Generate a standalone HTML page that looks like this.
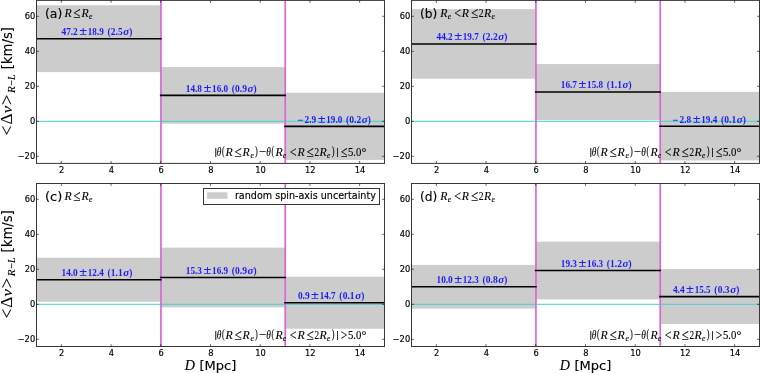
<!DOCTYPE html>
<html lang="en"><head><meta charset="utf-8"><title>Figure</title>
<style>html,body{margin:0;padding:0;background:#fff;}body{width:760px;height:373px;overflow:hidden;}svg{display:block;}</style>
</head><body>
<svg width="760" height="373" viewBox="0 0 760 373">
<rect x="0" y="0" width="760" height="373" fill="#fff"/>
<g id="panel-a">
<clipPath id="clip-a"><rect x="36.5" y="0.4" width="348" height="163"/></clipPath>
<g clip-path="url(#clip-a)">
<rect x="36.5" y="5.28" width="124.29" height="66.8" fill="#cccccc"/>
<rect x="160.79" y="67.05" width="124.29" height="56.65" fill="#cccccc"/>
<rect x="285.07" y="92.78" width="99.43" height="67.15" fill="#cccccc"/>
<line x1="36.5" x2="384.5" y1="121.3" y2="121.3" stroke="#45cfcf" stroke-width="1"/>
<line x1="160.94" x2="160.94" y1="0.4" y2="163.4" stroke="#dc66d8" stroke-width="1.7"/>
<line x1="285.22" x2="285.22" y1="0.4" y2="163.4" stroke="#dc66d8" stroke-width="1.7"/>
<line x1="35.6" x2="161.69" y1="38.7" y2="38.7" stroke="#000" stroke-width="1.6"/>
<line x1="159.89" x2="285.97" y1="95.4" y2="95.4" stroke="#000" stroke-width="1.6"/>
<line x1="284.17" x2="385.4" y1="126.38" y2="126.38" stroke="#000" stroke-width="1.6"/>
</g>
<text x="61.5" y="35" font-family="'Liberation Serif','DejaVu Serif',serif" font-size="9.6" fill="#1a1aff" font-weight="bold" textLength="16.2" lengthAdjust="spacingAndGlyphs">47.2</text>
<text x="79.2" y="35.1" font-family="'Liberation Serif','DejaVu Serif',serif" font-size="12" fill="#1a1aff" font-weight="bold" textLength="7.9" lengthAdjust="spacingAndGlyphs">±</text>
<text x="87.8" y="35" font-family="'Liberation Serif','DejaVu Serif',serif" font-size="9.6" fill="#1a1aff" font-weight="bold" textLength="15.9" lengthAdjust="spacingAndGlyphs">18.9</text>
<text x="107.4" y="35.3" font-family="'Liberation Serif','DejaVu Serif',serif" font-size="10.6" fill="#1a1aff" font-weight="bold" textLength="3.1" lengthAdjust="spacingAndGlyphs">(</text>
<text x="110.8" y="35" font-family="'Liberation Serif','DejaVu Serif',serif" font-size="9.6" fill="#1a1aff" font-weight="bold" textLength="11.9" lengthAdjust="spacingAndGlyphs">2.5</text>
<text x="123.3" y="35" font-family="'Liberation Serif','DejaVu Serif',serif" font-size="9.6" fill="#1a1aff" font-style="italic" font-weight="bold" textLength="5.9" lengthAdjust="spacingAndGlyphs">σ</text>
<text x="129.3" y="35.3" font-family="'Liberation Serif','DejaVu Serif',serif" font-size="10.6" fill="#1a1aff" font-weight="bold" textLength="3.1" lengthAdjust="spacingAndGlyphs">)</text>
<text x="185.8" y="92" font-family="'Liberation Serif','DejaVu Serif',serif" font-size="9.6" fill="#1a1aff" font-weight="bold" textLength="16.2" lengthAdjust="spacingAndGlyphs">14.8</text>
<text x="203.5" y="92.1" font-family="'Liberation Serif','DejaVu Serif',serif" font-size="12" fill="#1a1aff" font-weight="bold" textLength="7.9" lengthAdjust="spacingAndGlyphs">±</text>
<text x="212.1" y="92" font-family="'Liberation Serif','DejaVu Serif',serif" font-size="9.6" fill="#1a1aff" font-weight="bold" textLength="15.9" lengthAdjust="spacingAndGlyphs">16.0</text>
<text x="231.7" y="92.3" font-family="'Liberation Serif','DejaVu Serif',serif" font-size="10.6" fill="#1a1aff" font-weight="bold" textLength="3.1" lengthAdjust="spacingAndGlyphs">(</text>
<text x="235.1" y="92" font-family="'Liberation Serif','DejaVu Serif',serif" font-size="9.6" fill="#1a1aff" font-weight="bold" textLength="11.9" lengthAdjust="spacingAndGlyphs">0.9</text>
<text x="247.6" y="92" font-family="'Liberation Serif','DejaVu Serif',serif" font-size="9.6" fill="#1a1aff" font-style="italic" font-weight="bold" textLength="5.9" lengthAdjust="spacingAndGlyphs">σ</text>
<text x="253.6" y="92.3" font-family="'Liberation Serif','DejaVu Serif',serif" font-size="10.6" fill="#1a1aff" font-weight="bold" textLength="3.1" lengthAdjust="spacingAndGlyphs">)</text>
<text x="297.6" y="123.6" font-family="'Liberation Serif','DejaVu Serif',serif" font-size="12" fill="#1a1aff" font-weight="bold" textLength="6" lengthAdjust="spacingAndGlyphs">−</text>
<text x="304.5" y="123" font-family="'Liberation Serif','DejaVu Serif',serif" font-size="9.6" fill="#1a1aff" font-weight="bold" textLength="11.7" lengthAdjust="spacingAndGlyphs">2.9</text>
<text x="317.7" y="123.1" font-family="'Liberation Serif','DejaVu Serif',serif" font-size="12" fill="#1a1aff" font-weight="bold" textLength="7.9" lengthAdjust="spacingAndGlyphs">±</text>
<text x="326.3" y="123" font-family="'Liberation Serif','DejaVu Serif',serif" font-size="9.6" fill="#1a1aff" font-weight="bold" textLength="15.9" lengthAdjust="spacingAndGlyphs">19.0</text>
<text x="345.9" y="123.3" font-family="'Liberation Serif','DejaVu Serif',serif" font-size="10.6" fill="#1a1aff" font-weight="bold" textLength="3.1" lengthAdjust="spacingAndGlyphs">(</text>
<text x="349.3" y="123" font-family="'Liberation Serif','DejaVu Serif',serif" font-size="9.6" fill="#1a1aff" font-weight="bold" textLength="11.9" lengthAdjust="spacingAndGlyphs">0.2</text>
<text x="361.8" y="123" font-family="'Liberation Serif','DejaVu Serif',serif" font-size="9.6" fill="#1a1aff" font-style="italic" font-weight="bold" textLength="5.9" lengthAdjust="spacingAndGlyphs">σ</text>
<text x="367.8" y="123.3" font-family="'Liberation Serif','DejaVu Serif',serif" font-size="10.6" fill="#1a1aff" font-weight="bold" textLength="3.1" lengthAdjust="spacingAndGlyphs">)</text>
<text x="45" y="17.7" font-family="'DejaVu Sans','Liberation Sans',sans-serif" font-size="12.6" fill="#000" stroke="#000" stroke-width="0.12" textLength="17.4" lengthAdjust="spacingAndGlyphs">(a)</text>
<text x="64.4" y="16.8" font-family="'Liberation Serif','DejaVu Serif',serif" font-size="11.8" fill="#000" stroke="#000" stroke-width="0.12" font-style="italic" textLength="7.2" lengthAdjust="spacingAndGlyphs">R</text>
<text x="73.3" y="18" font-family="'Liberation Serif','DejaVu Serif',serif" font-size="15.5" fill="#000" stroke="#000" stroke-width="0.12" textLength="7.2" lengthAdjust="spacingAndGlyphs">≤</text>
<text x="81.6" y="16.8" font-family="'Liberation Serif','DejaVu Serif',serif" font-size="11.8" fill="#000" stroke="#000" stroke-width="0.12" font-style="italic" textLength="7.2" lengthAdjust="spacingAndGlyphs">R</text>
<text x="89" y="18.8" font-family="'Liberation Serif','DejaVu Serif',serif" font-size="8.8" fill="#000" stroke="#000" stroke-width="0.12" font-style="italic" textLength="3.4" lengthAdjust="spacingAndGlyphs">e</text>
<text x="214.15" y="155.2" font-family="'Liberation Serif','DejaVu Serif',serif" font-size="11.4" fill="#000" stroke="#000" stroke-width="0.12" textLength="3" lengthAdjust="spacingAndGlyphs">|</text>
<text x="216.8" y="155.7" font-family="'Liberation Serif','DejaVu Serif',serif" font-size="11.8" fill="#000" stroke="#000" stroke-width="0.12" font-style="italic" textLength="4.6" lengthAdjust="spacingAndGlyphs">θ</text>
<text x="222.1" y="155.2" font-family="'Liberation Serif','DejaVu Serif',serif" font-size="11.5" fill="#000" stroke="#000" stroke-width="0.12" textLength="2.6" lengthAdjust="spacingAndGlyphs">(</text>
<text x="225.4" y="155.7" font-family="'Liberation Serif','DejaVu Serif',serif" font-size="11.8" fill="#000" stroke="#000" stroke-width="0.12" font-style="italic" textLength="7.2" lengthAdjust="spacingAndGlyphs">R</text>
<text x="234.4" y="156.9" font-family="'Liberation Serif','DejaVu Serif',serif" font-size="15.5" fill="#000" stroke="#000" stroke-width="0.12" textLength="7.2" lengthAdjust="spacingAndGlyphs">≤</text>
<text x="242.5" y="155.7" font-family="'Liberation Serif','DejaVu Serif',serif" font-size="11.8" fill="#000" stroke="#000" stroke-width="0.12" font-style="italic" textLength="7.2" lengthAdjust="spacingAndGlyphs">R</text>
<text x="250.4" y="157.7" font-family="'Liberation Serif','DejaVu Serif',serif" font-size="8.8" fill="#000" stroke="#000" stroke-width="0.12" font-style="italic" textLength="3.4" lengthAdjust="spacingAndGlyphs">e</text>
<text x="255" y="155.2" font-family="'Liberation Serif','DejaVu Serif',serif" font-size="11.5" fill="#000" stroke="#000" stroke-width="0.12" textLength="2.8" lengthAdjust="spacingAndGlyphs">)</text>
<text x="258.95" y="156.7" font-family="'Liberation Serif','DejaVu Serif',serif" font-size="15.5" fill="#000" stroke="#000" stroke-width="0.12" textLength="7.2" lengthAdjust="spacingAndGlyphs">−</text>
<text x="266.2" y="155.7" font-family="'Liberation Serif','DejaVu Serif',serif" font-size="11.8" fill="#000" stroke="#000" stroke-width="0.12" font-style="italic" textLength="4.6" lengthAdjust="spacingAndGlyphs">θ</text>
<text x="271.4" y="155.2" font-family="'Liberation Serif','DejaVu Serif',serif" font-size="11.5" fill="#000" stroke="#000" stroke-width="0.12" textLength="2.6" lengthAdjust="spacingAndGlyphs">(</text>
<text x="275.4" y="155.7" font-family="'Liberation Serif','DejaVu Serif',serif" font-size="11.8" fill="#000" stroke="#000" stroke-width="0.12" font-style="italic" textLength="7.2" lengthAdjust="spacingAndGlyphs">R</text>
<text x="282.9" y="157.7" font-family="'Liberation Serif','DejaVu Serif',serif" font-size="8.8" fill="#000" stroke="#000" stroke-width="0.12" font-style="italic" textLength="3.2" lengthAdjust="spacingAndGlyphs">e</text>
<text x="289.8" y="156.7" font-family="'Liberation Serif','DejaVu Serif',serif" font-size="15.5" fill="#000" stroke="#000" stroke-width="0.12" textLength="6.8" lengthAdjust="spacingAndGlyphs">&lt;</text>
<text x="297.5" y="155.7" font-family="'Liberation Serif','DejaVu Serif',serif" font-size="11.8" fill="#000" stroke="#000" stroke-width="0.12" font-style="italic" textLength="7.2" lengthAdjust="spacingAndGlyphs">R</text>
<text x="306.5" y="156.9" font-family="'Liberation Serif','DejaVu Serif',serif" font-size="15.5" fill="#000" stroke="#000" stroke-width="0.12" textLength="7.2" lengthAdjust="spacingAndGlyphs">≤</text>
<text x="314.6" y="155.7" font-family="'Liberation Serif','DejaVu Serif',serif" font-size="11.8" fill="#000" stroke="#000" stroke-width="0.12" textLength="4.6" lengthAdjust="spacingAndGlyphs">2</text>
<text x="319.5" y="155.7" font-family="'Liberation Serif','DejaVu Serif',serif" font-size="11.8" fill="#000" stroke="#000" stroke-width="0.12" font-style="italic" textLength="7.2" lengthAdjust="spacingAndGlyphs">R</text>
<text x="327.1" y="157.7" font-family="'Liberation Serif','DejaVu Serif',serif" font-size="8.8" fill="#000" stroke="#000" stroke-width="0.12" font-style="italic" textLength="3.3" lengthAdjust="spacingAndGlyphs">e</text>
<text x="331.7" y="155.2" font-family="'Liberation Serif','DejaVu Serif',serif" font-size="11.5" fill="#000" stroke="#000" stroke-width="0.12" textLength="2.8" lengthAdjust="spacingAndGlyphs">)</text>
<text x="335.95" y="155.2" font-family="'Liberation Serif','DejaVu Serif',serif" font-size="11.4" fill="#000" stroke="#000" stroke-width="0.12" textLength="3" lengthAdjust="spacingAndGlyphs">|</text>
<text x="340.7" y="156.9" font-family="'Liberation Serif','DejaVu Serif',serif" font-size="15.5" fill="#000" stroke="#000" stroke-width="0.12" textLength="6.6" lengthAdjust="spacingAndGlyphs">≤</text>
<text x="347.9" y="155.7" font-family="'Liberation Serif','DejaVu Serif',serif" font-size="11.8" fill="#000" stroke="#000" stroke-width="0.12" textLength="13.4" lengthAdjust="spacingAndGlyphs">5.0</text>
<text x="361.6" y="155.6" font-family="'Liberation Serif','DejaVu Serif',serif" font-size="13" fill="#000" stroke="#000" stroke-width="0.12" textLength="4.9" lengthAdjust="spacingAndGlyphs">°</text>
<rect x="36.5" y="0.4" width="348" height="163" fill="none" stroke="#383838" stroke-width="1"/>
<path d="M61.36 163.4v-2.4M61.36 0.4v2.4M111.07 163.4v-2.4M111.07 0.4v2.4M160.79 163.4v-2.4M160.79 0.4v2.4M210.5 163.4v-2.4M210.5 0.4v2.4M260.21 163.4v-2.4M260.21 0.4v2.4M309.93 163.4v-2.4M309.93 0.4v2.4M359.64 163.4v-2.4M359.64 0.4v2.4M36.5 156.3h2.4M384.5 156.3h-2.4M36.5 121.3h2.4M384.5 121.3h-2.4M36.5 86.3h2.4M384.5 86.3h-2.4M36.5 51.3h2.4M384.5 51.3h-2.4M36.5 16.3h2.4M384.5 16.3h-2.4" stroke="#000" stroke-width="0.6" fill="none"/>
<text x="61.76" y="173.1" font-family="'DejaVu Sans','Liberation Sans',sans-serif" font-size="8.3" fill="#000" stroke="#000" stroke-width="0.15" text-anchor="middle">2</text>
<text x="111.47" y="173.1" font-family="'DejaVu Sans','Liberation Sans',sans-serif" font-size="8.3" fill="#000" stroke="#000" stroke-width="0.15" text-anchor="middle">4</text>
<text x="161.19" y="173.1" font-family="'DejaVu Sans','Liberation Sans',sans-serif" font-size="8.3" fill="#000" stroke="#000" stroke-width="0.15" text-anchor="middle">6</text>
<text x="210.9" y="173.1" font-family="'DejaVu Sans','Liberation Sans',sans-serif" font-size="8.3" fill="#000" stroke="#000" stroke-width="0.15" text-anchor="middle">8</text>
<text x="260.61" y="173.1" font-family="'DejaVu Sans','Liberation Sans',sans-serif" font-size="8.3" fill="#000" stroke="#000" stroke-width="0.15" text-anchor="middle">10</text>
<text x="310.33" y="173.1" font-family="'DejaVu Sans','Liberation Sans',sans-serif" font-size="8.3" fill="#000" stroke="#000" stroke-width="0.15" text-anchor="middle">12</text>
<text x="360.04" y="173.1" font-family="'DejaVu Sans','Liberation Sans',sans-serif" font-size="8.3" fill="#000" stroke="#000" stroke-width="0.15" text-anchor="middle">14</text>
<text x="35.2" y="158.9" font-family="'DejaVu Sans','Liberation Sans',sans-serif" font-size="8.3" fill="#000" stroke="#000" stroke-width="0.15" text-anchor="end">−20</text>
<text x="35.2" y="123.9" font-family="'DejaVu Sans','Liberation Sans',sans-serif" font-size="8.3" fill="#000" stroke="#000" stroke-width="0.15" text-anchor="end">0</text>
<text x="35.2" y="88.9" font-family="'DejaVu Sans','Liberation Sans',sans-serif" font-size="8.3" fill="#000" stroke="#000" stroke-width="0.15" text-anchor="end">20</text>
<text x="35.2" y="53.9" font-family="'DejaVu Sans','Liberation Sans',sans-serif" font-size="8.3" fill="#000" stroke="#000" stroke-width="0.15" text-anchor="end">40</text>
<text x="35.2" y="18.9" font-family="'DejaVu Sans','Liberation Sans',sans-serif" font-size="8.3" fill="#000" stroke="#000" stroke-width="0.15" text-anchor="end">60</text>
<g transform="translate(11.7 138.1) rotate(-90)">
<text x="2.85" y="1.1" font-family="'Liberation Serif','DejaVu Serif',serif" font-size="18" fill="#000" stroke="#000" stroke-width="0.12" textLength="9.6" lengthAdjust="spacingAndGlyphs">&lt;</text>
<text x="13.55" y="0" font-family="'Liberation Serif','DejaVu Serif',serif" font-size="15.8" fill="#000" stroke="#000" stroke-width="0.12" textLength="11" lengthAdjust="spacingAndGlyphs">Δ</text>
<text x="24.8" y="0" font-family="'Liberation Serif','DejaVu Serif',serif" font-size="15.6" fill="#000" stroke="#000" stroke-width="0.12" font-style="italic" textLength="7.4" lengthAdjust="spacingAndGlyphs">v</text>
<text x="33" y="1.1" font-family="'Liberation Serif','DejaVu Serif',serif" font-size="18" fill="#000" stroke="#000" stroke-width="0.12" textLength="10.3" lengthAdjust="spacingAndGlyphs">&gt;</text>
<text x="45" y="3.1" font-family="'Liberation Serif','DejaVu Serif',serif" font-size="10.8" fill="#000" stroke="#000" stroke-width="0.12" font-style="italic" textLength="6.8" lengthAdjust="spacingAndGlyphs">R</text>
<text x="52.2" y="3.8" font-family="'Liberation Serif','DejaVu Serif',serif" font-size="12.5" fill="#000" stroke="#000" stroke-width="0.12" textLength="5.8" lengthAdjust="spacingAndGlyphs">−</text>
<text x="58.2" y="3.1" font-family="'Liberation Serif','DejaVu Serif',serif" font-size="10.8" fill="#000" stroke="#000" stroke-width="0.12" font-style="italic" textLength="5.6" lengthAdjust="spacingAndGlyphs">L</text>
<text x="68.8" y="0.2" font-family="'DejaVu Sans','Liberation Sans',sans-serif" font-size="14.6" fill="#000" stroke="#000" stroke-width="0.1" textLength="42.3" lengthAdjust="spacingAndGlyphs">[km/s]</text>
</g>
</g>
<g id="panel-b">
<clipPath id="clip-b"><rect x="411.5" y="0.4" width="348" height="163"/></clipPath>
<g clip-path="url(#clip-b)">
<rect x="411.5" y="9.12" width="124.29" height="69.6" fill="#cccccc"/>
<rect x="535.79" y="64.08" width="124.29" height="55.95" fill="#cccccc"/>
<rect x="660.07" y="91.9" width="99.43" height="68.55" fill="#cccccc"/>
<line x1="411.5" x2="759.5" y1="121.3" y2="121.3" stroke="#45cfcf" stroke-width="1"/>
<line x1="535.94" x2="535.94" y1="0.4" y2="163.4" stroke="#dc66d8" stroke-width="1.7"/>
<line x1="660.22" x2="660.22" y1="0.4" y2="163.4" stroke="#dc66d8" stroke-width="1.7"/>
<line x1="410.6" x2="536.69" y1="43.95" y2="43.95" stroke="#000" stroke-width="1.6"/>
<line x1="534.89" x2="660.97" y1="92.07" y2="92.07" stroke="#000" stroke-width="1.6"/>
<line x1="659.17" x2="760.4" y1="126.2" y2="126.2" stroke="#000" stroke-width="1.6"/>
</g>
<text x="436.5" y="40" font-family="'Liberation Serif','DejaVu Serif',serif" font-size="9.6" fill="#1a1aff" font-weight="bold" textLength="16.2" lengthAdjust="spacingAndGlyphs">44.2</text>
<text x="454.2" y="40.1" font-family="'Liberation Serif','DejaVu Serif',serif" font-size="12" fill="#1a1aff" font-weight="bold" textLength="7.9" lengthAdjust="spacingAndGlyphs">±</text>
<text x="462.8" y="40" font-family="'Liberation Serif','DejaVu Serif',serif" font-size="9.6" fill="#1a1aff" font-weight="bold" textLength="15.9" lengthAdjust="spacingAndGlyphs">19.7</text>
<text x="482.4" y="40.3" font-family="'Liberation Serif','DejaVu Serif',serif" font-size="10.6" fill="#1a1aff" font-weight="bold" textLength="3.1" lengthAdjust="spacingAndGlyphs">(</text>
<text x="485.8" y="40" font-family="'Liberation Serif','DejaVu Serif',serif" font-size="9.6" fill="#1a1aff" font-weight="bold" textLength="11.9" lengthAdjust="spacingAndGlyphs">2.2</text>
<text x="498.3" y="40" font-family="'Liberation Serif','DejaVu Serif',serif" font-size="9.6" fill="#1a1aff" font-style="italic" font-weight="bold" textLength="5.9" lengthAdjust="spacingAndGlyphs">σ</text>
<text x="504.3" y="40.3" font-family="'Liberation Serif','DejaVu Serif',serif" font-size="10.6" fill="#1a1aff" font-weight="bold" textLength="3.1" lengthAdjust="spacingAndGlyphs">)</text>
<text x="560.8" y="88" font-family="'Liberation Serif','DejaVu Serif',serif" font-size="9.6" fill="#1a1aff" font-weight="bold" textLength="16.2" lengthAdjust="spacingAndGlyphs">16.7</text>
<text x="578.5" y="88.1" font-family="'Liberation Serif','DejaVu Serif',serif" font-size="12" fill="#1a1aff" font-weight="bold" textLength="7.9" lengthAdjust="spacingAndGlyphs">±</text>
<text x="587.1" y="88" font-family="'Liberation Serif','DejaVu Serif',serif" font-size="9.6" fill="#1a1aff" font-weight="bold" textLength="15.9" lengthAdjust="spacingAndGlyphs">15.8</text>
<text x="606.7" y="88.3" font-family="'Liberation Serif','DejaVu Serif',serif" font-size="10.6" fill="#1a1aff" font-weight="bold" textLength="3.1" lengthAdjust="spacingAndGlyphs">(</text>
<text x="610.1" y="88" font-family="'Liberation Serif','DejaVu Serif',serif" font-size="9.6" fill="#1a1aff" font-weight="bold" textLength="11.9" lengthAdjust="spacingAndGlyphs">1.1</text>
<text x="622.6" y="88" font-family="'Liberation Serif','DejaVu Serif',serif" font-size="9.6" fill="#1a1aff" font-style="italic" font-weight="bold" textLength="5.9" lengthAdjust="spacingAndGlyphs">σ</text>
<text x="628.6" y="88.3" font-family="'Liberation Serif','DejaVu Serif',serif" font-size="10.6" fill="#1a1aff" font-weight="bold" textLength="3.1" lengthAdjust="spacingAndGlyphs">)</text>
<text x="672.6" y="123.6" font-family="'Liberation Serif','DejaVu Serif',serif" font-size="12" fill="#1a1aff" font-weight="bold" textLength="6" lengthAdjust="spacingAndGlyphs">−</text>
<text x="679.5" y="123" font-family="'Liberation Serif','DejaVu Serif',serif" font-size="9.6" fill="#1a1aff" font-weight="bold" textLength="11.7" lengthAdjust="spacingAndGlyphs">2.8</text>
<text x="692.7" y="123.1" font-family="'Liberation Serif','DejaVu Serif',serif" font-size="12" fill="#1a1aff" font-weight="bold" textLength="7.9" lengthAdjust="spacingAndGlyphs">±</text>
<text x="701.3" y="123" font-family="'Liberation Serif','DejaVu Serif',serif" font-size="9.6" fill="#1a1aff" font-weight="bold" textLength="15.9" lengthAdjust="spacingAndGlyphs">19.4</text>
<text x="720.9" y="123.3" font-family="'Liberation Serif','DejaVu Serif',serif" font-size="10.6" fill="#1a1aff" font-weight="bold" textLength="3.1" lengthAdjust="spacingAndGlyphs">(</text>
<text x="724.3" y="123" font-family="'Liberation Serif','DejaVu Serif',serif" font-size="9.6" fill="#1a1aff" font-weight="bold" textLength="11.9" lengthAdjust="spacingAndGlyphs">0.1</text>
<text x="736.8" y="123" font-family="'Liberation Serif','DejaVu Serif',serif" font-size="9.6" fill="#1a1aff" font-style="italic" font-weight="bold" textLength="5.9" lengthAdjust="spacingAndGlyphs">σ</text>
<text x="742.8" y="123.3" font-family="'Liberation Serif','DejaVu Serif',serif" font-size="10.6" fill="#1a1aff" font-weight="bold" textLength="3.1" lengthAdjust="spacingAndGlyphs">)</text>
<text x="420" y="17.7" font-family="'DejaVu Sans','Liberation Sans',sans-serif" font-size="12.6" fill="#000" stroke="#000" stroke-width="0.12" textLength="17.4" lengthAdjust="spacingAndGlyphs">(b)</text>
<text x="440.2" y="16.8" font-family="'Liberation Serif','DejaVu Serif',serif" font-size="11.8" fill="#000" stroke="#000" stroke-width="0.12" font-style="italic" textLength="7.2" lengthAdjust="spacingAndGlyphs">R</text>
<text x="447.7" y="18.8" font-family="'Liberation Serif','DejaVu Serif',serif" font-size="8.8" fill="#000" stroke="#000" stroke-width="0.12" font-style="italic" textLength="3.4" lengthAdjust="spacingAndGlyphs">e</text>
<text x="454.2" y="17.8" font-family="'Liberation Serif','DejaVu Serif',serif" font-size="15.5" fill="#000" stroke="#000" stroke-width="0.12" textLength="6.8" lengthAdjust="spacingAndGlyphs">&lt;</text>
<text x="461.7" y="16.8" font-family="'Liberation Serif','DejaVu Serif',serif" font-size="11.8" fill="#000" stroke="#000" stroke-width="0.12" font-style="italic" textLength="7.2" lengthAdjust="spacingAndGlyphs">R</text>
<text x="471.1" y="18" font-family="'Liberation Serif','DejaVu Serif',serif" font-size="15.5" fill="#000" stroke="#000" stroke-width="0.12" textLength="7.2" lengthAdjust="spacingAndGlyphs">≤</text>
<text x="478.8" y="16.8" font-family="'Liberation Serif','DejaVu Serif',serif" font-size="11.8" fill="#000" stroke="#000" stroke-width="0.12" textLength="4.8" lengthAdjust="spacingAndGlyphs">2</text>
<text x="484" y="16.8" font-family="'Liberation Serif','DejaVu Serif',serif" font-size="11.8" fill="#000" stroke="#000" stroke-width="0.12" font-style="italic" textLength="7.2" lengthAdjust="spacingAndGlyphs">R</text>
<text x="491.6" y="18.8" font-family="'Liberation Serif','DejaVu Serif',serif" font-size="8.8" fill="#000" stroke="#000" stroke-width="0.12" font-style="italic" textLength="3.4" lengthAdjust="spacingAndGlyphs">e</text>
<text x="589.15" y="155.2" font-family="'Liberation Serif','DejaVu Serif',serif" font-size="11.4" fill="#000" stroke="#000" stroke-width="0.12" textLength="3" lengthAdjust="spacingAndGlyphs">|</text>
<text x="591.8" y="155.7" font-family="'Liberation Serif','DejaVu Serif',serif" font-size="11.8" fill="#000" stroke="#000" stroke-width="0.12" font-style="italic" textLength="4.6" lengthAdjust="spacingAndGlyphs">θ</text>
<text x="597.1" y="155.2" font-family="'Liberation Serif','DejaVu Serif',serif" font-size="11.5" fill="#000" stroke="#000" stroke-width="0.12" textLength="2.6" lengthAdjust="spacingAndGlyphs">(</text>
<text x="600.4" y="155.7" font-family="'Liberation Serif','DejaVu Serif',serif" font-size="11.8" fill="#000" stroke="#000" stroke-width="0.12" font-style="italic" textLength="7.2" lengthAdjust="spacingAndGlyphs">R</text>
<text x="609.4" y="156.9" font-family="'Liberation Serif','DejaVu Serif',serif" font-size="15.5" fill="#000" stroke="#000" stroke-width="0.12" textLength="7.2" lengthAdjust="spacingAndGlyphs">≤</text>
<text x="617.5" y="155.7" font-family="'Liberation Serif','DejaVu Serif',serif" font-size="11.8" fill="#000" stroke="#000" stroke-width="0.12" font-style="italic" textLength="7.2" lengthAdjust="spacingAndGlyphs">R</text>
<text x="625.4" y="157.7" font-family="'Liberation Serif','DejaVu Serif',serif" font-size="8.8" fill="#000" stroke="#000" stroke-width="0.12" font-style="italic" textLength="3.4" lengthAdjust="spacingAndGlyphs">e</text>
<text x="630" y="155.2" font-family="'Liberation Serif','DejaVu Serif',serif" font-size="11.5" fill="#000" stroke="#000" stroke-width="0.12" textLength="2.8" lengthAdjust="spacingAndGlyphs">)</text>
<text x="633.95" y="156.7" font-family="'Liberation Serif','DejaVu Serif',serif" font-size="15.5" fill="#000" stroke="#000" stroke-width="0.12" textLength="7.2" lengthAdjust="spacingAndGlyphs">−</text>
<text x="641.2" y="155.7" font-family="'Liberation Serif','DejaVu Serif',serif" font-size="11.8" fill="#000" stroke="#000" stroke-width="0.12" font-style="italic" textLength="4.6" lengthAdjust="spacingAndGlyphs">θ</text>
<text x="646.4" y="155.2" font-family="'Liberation Serif','DejaVu Serif',serif" font-size="11.5" fill="#000" stroke="#000" stroke-width="0.12" textLength="2.6" lengthAdjust="spacingAndGlyphs">(</text>
<text x="650.4" y="155.7" font-family="'Liberation Serif','DejaVu Serif',serif" font-size="11.8" fill="#000" stroke="#000" stroke-width="0.12" font-style="italic" textLength="7.2" lengthAdjust="spacingAndGlyphs">R</text>
<text x="657.9" y="157.7" font-family="'Liberation Serif','DejaVu Serif',serif" font-size="8.8" fill="#000" stroke="#000" stroke-width="0.12" font-style="italic" textLength="3.2" lengthAdjust="spacingAndGlyphs">e</text>
<text x="664.8" y="156.7" font-family="'Liberation Serif','DejaVu Serif',serif" font-size="15.5" fill="#000" stroke="#000" stroke-width="0.12" textLength="6.8" lengthAdjust="spacingAndGlyphs">&lt;</text>
<text x="672.5" y="155.7" font-family="'Liberation Serif','DejaVu Serif',serif" font-size="11.8" fill="#000" stroke="#000" stroke-width="0.12" font-style="italic" textLength="7.2" lengthAdjust="spacingAndGlyphs">R</text>
<text x="681.5" y="156.9" font-family="'Liberation Serif','DejaVu Serif',serif" font-size="15.5" fill="#000" stroke="#000" stroke-width="0.12" textLength="7.2" lengthAdjust="spacingAndGlyphs">≤</text>
<text x="689.6" y="155.7" font-family="'Liberation Serif','DejaVu Serif',serif" font-size="11.8" fill="#000" stroke="#000" stroke-width="0.12" textLength="4.6" lengthAdjust="spacingAndGlyphs">2</text>
<text x="694.5" y="155.7" font-family="'Liberation Serif','DejaVu Serif',serif" font-size="11.8" fill="#000" stroke="#000" stroke-width="0.12" font-style="italic" textLength="7.2" lengthAdjust="spacingAndGlyphs">R</text>
<text x="702.1" y="157.7" font-family="'Liberation Serif','DejaVu Serif',serif" font-size="8.8" fill="#000" stroke="#000" stroke-width="0.12" font-style="italic" textLength="3.3" lengthAdjust="spacingAndGlyphs">e</text>
<text x="706.7" y="155.2" font-family="'Liberation Serif','DejaVu Serif',serif" font-size="11.5" fill="#000" stroke="#000" stroke-width="0.12" textLength="2.8" lengthAdjust="spacingAndGlyphs">)</text>
<text x="710.95" y="155.2" font-family="'Liberation Serif','DejaVu Serif',serif" font-size="11.4" fill="#000" stroke="#000" stroke-width="0.12" textLength="3" lengthAdjust="spacingAndGlyphs">|</text>
<text x="715.7" y="156.9" font-family="'Liberation Serif','DejaVu Serif',serif" font-size="15.5" fill="#000" stroke="#000" stroke-width="0.12" textLength="6.6" lengthAdjust="spacingAndGlyphs">≤</text>
<text x="722.9" y="155.7" font-family="'Liberation Serif','DejaVu Serif',serif" font-size="11.8" fill="#000" stroke="#000" stroke-width="0.12" textLength="13.4" lengthAdjust="spacingAndGlyphs">5.0</text>
<text x="736.6" y="155.6" font-family="'Liberation Serif','DejaVu Serif',serif" font-size="13" fill="#000" stroke="#000" stroke-width="0.12" textLength="4.9" lengthAdjust="spacingAndGlyphs">°</text>
<rect x="411.5" y="0.4" width="348" height="163" fill="none" stroke="#383838" stroke-width="1"/>
<path d="M436.36 163.4v-2.4M436.36 0.4v2.4M486.07 163.4v-2.4M486.07 0.4v2.4M535.79 163.4v-2.4M535.79 0.4v2.4M585.5 163.4v-2.4M585.5 0.4v2.4M635.21 163.4v-2.4M635.21 0.4v2.4M684.93 163.4v-2.4M684.93 0.4v2.4M734.64 163.4v-2.4M734.64 0.4v2.4M411.5 156.3h2.4M759.5 156.3h-2.4M411.5 121.3h2.4M759.5 121.3h-2.4M411.5 86.3h2.4M759.5 86.3h-2.4M411.5 51.3h2.4M759.5 51.3h-2.4M411.5 16.3h2.4M759.5 16.3h-2.4" stroke="#000" stroke-width="0.6" fill="none"/>
<text x="436.76" y="173.1" font-family="'DejaVu Sans','Liberation Sans',sans-serif" font-size="8.3" fill="#000" stroke="#000" stroke-width="0.15" text-anchor="middle">2</text>
<text x="486.47" y="173.1" font-family="'DejaVu Sans','Liberation Sans',sans-serif" font-size="8.3" fill="#000" stroke="#000" stroke-width="0.15" text-anchor="middle">4</text>
<text x="536.19" y="173.1" font-family="'DejaVu Sans','Liberation Sans',sans-serif" font-size="8.3" fill="#000" stroke="#000" stroke-width="0.15" text-anchor="middle">6</text>
<text x="585.9" y="173.1" font-family="'DejaVu Sans','Liberation Sans',sans-serif" font-size="8.3" fill="#000" stroke="#000" stroke-width="0.15" text-anchor="middle">8</text>
<text x="635.61" y="173.1" font-family="'DejaVu Sans','Liberation Sans',sans-serif" font-size="8.3" fill="#000" stroke="#000" stroke-width="0.15" text-anchor="middle">10</text>
<text x="685.33" y="173.1" font-family="'DejaVu Sans','Liberation Sans',sans-serif" font-size="8.3" fill="#000" stroke="#000" stroke-width="0.15" text-anchor="middle">12</text>
<text x="735.04" y="173.1" font-family="'DejaVu Sans','Liberation Sans',sans-serif" font-size="8.3" fill="#000" stroke="#000" stroke-width="0.15" text-anchor="middle">14</text>
<text x="410.2" y="158.9" font-family="'DejaVu Sans','Liberation Sans',sans-serif" font-size="8.3" fill="#000" stroke="#000" stroke-width="0.15" text-anchor="end">−20</text>
<text x="410.2" y="123.9" font-family="'DejaVu Sans','Liberation Sans',sans-serif" font-size="8.3" fill="#000" stroke="#000" stroke-width="0.15" text-anchor="end">0</text>
<text x="410.2" y="88.9" font-family="'DejaVu Sans','Liberation Sans',sans-serif" font-size="8.3" fill="#000" stroke="#000" stroke-width="0.15" text-anchor="end">20</text>
<text x="410.2" y="53.9" font-family="'DejaVu Sans','Liberation Sans',sans-serif" font-size="8.3" fill="#000" stroke="#000" stroke-width="0.15" text-anchor="end">40</text>
<text x="410.2" y="18.9" font-family="'DejaVu Sans','Liberation Sans',sans-serif" font-size="8.3" fill="#000" stroke="#000" stroke-width="0.15" text-anchor="end">60</text>
</g>
<g id="panel-c">
<clipPath id="clip-c"><rect x="36.5" y="183.5" width="348" height="163"/></clipPath>
<g clip-path="url(#clip-c)">
<rect x="36.5" y="257.75" width="124.29" height="44.05" fill="#cccccc"/>
<rect x="160.79" y="247.6" width="124.29" height="59.8" fill="#cccccc"/>
<rect x="285.07" y="276.65" width="99.43" height="52.1" fill="#cccccc"/>
<line x1="36.5" x2="384.5" y1="304.3" y2="304.3" stroke="#45cfcf" stroke-width="1"/>
<line x1="160.94" x2="160.94" y1="183.5" y2="346.5" stroke="#dc66d8" stroke-width="1.7"/>
<line x1="285.22" x2="285.22" y1="183.5" y2="346.5" stroke="#dc66d8" stroke-width="1.7"/>
<line x1="35.6" x2="161.69" y1="279.8" y2="279.8" stroke="#000" stroke-width="1.6"/>
<line x1="159.89" x2="285.97" y1="277.53" y2="277.53" stroke="#000" stroke-width="1.6"/>
<line x1="284.17" x2="385.4" y1="302.73" y2="302.73" stroke="#000" stroke-width="1.6"/>
</g>
<text x="61.5" y="276" font-family="'Liberation Serif','DejaVu Serif',serif" font-size="9.6" fill="#1a1aff" font-weight="bold" textLength="16.2" lengthAdjust="spacingAndGlyphs">14.0</text>
<text x="79.2" y="276.1" font-family="'Liberation Serif','DejaVu Serif',serif" font-size="12" fill="#1a1aff" font-weight="bold" textLength="7.9" lengthAdjust="spacingAndGlyphs">±</text>
<text x="87.8" y="276" font-family="'Liberation Serif','DejaVu Serif',serif" font-size="9.6" fill="#1a1aff" font-weight="bold" textLength="15.9" lengthAdjust="spacingAndGlyphs">12.4</text>
<text x="107.4" y="276.3" font-family="'Liberation Serif','DejaVu Serif',serif" font-size="10.6" fill="#1a1aff" font-weight="bold" textLength="3.1" lengthAdjust="spacingAndGlyphs">(</text>
<text x="110.8" y="276" font-family="'Liberation Serif','DejaVu Serif',serif" font-size="9.6" fill="#1a1aff" font-weight="bold" textLength="11.9" lengthAdjust="spacingAndGlyphs">1.1</text>
<text x="123.3" y="276" font-family="'Liberation Serif','DejaVu Serif',serif" font-size="9.6" fill="#1a1aff" font-style="italic" font-weight="bold" textLength="5.9" lengthAdjust="spacingAndGlyphs">σ</text>
<text x="129.3" y="276.3" font-family="'Liberation Serif','DejaVu Serif',serif" font-size="10.6" fill="#1a1aff" font-weight="bold" textLength="3.1" lengthAdjust="spacingAndGlyphs">)</text>
<text x="185.8" y="274" font-family="'Liberation Serif','DejaVu Serif',serif" font-size="9.6" fill="#1a1aff" font-weight="bold" textLength="16.2" lengthAdjust="spacingAndGlyphs">15.3</text>
<text x="203.5" y="274.1" font-family="'Liberation Serif','DejaVu Serif',serif" font-size="12" fill="#1a1aff" font-weight="bold" textLength="7.9" lengthAdjust="spacingAndGlyphs">±</text>
<text x="212.1" y="274" font-family="'Liberation Serif','DejaVu Serif',serif" font-size="9.6" fill="#1a1aff" font-weight="bold" textLength="15.9" lengthAdjust="spacingAndGlyphs">16.9</text>
<text x="231.7" y="274.3" font-family="'Liberation Serif','DejaVu Serif',serif" font-size="10.6" fill="#1a1aff" font-weight="bold" textLength="3.1" lengthAdjust="spacingAndGlyphs">(</text>
<text x="235.1" y="274" font-family="'Liberation Serif','DejaVu Serif',serif" font-size="9.6" fill="#1a1aff" font-weight="bold" textLength="11.9" lengthAdjust="spacingAndGlyphs">0.9</text>
<text x="247.6" y="274" font-family="'Liberation Serif','DejaVu Serif',serif" font-size="9.6" fill="#1a1aff" font-style="italic" font-weight="bold" textLength="5.9" lengthAdjust="spacingAndGlyphs">σ</text>
<text x="253.6" y="274.3" font-family="'Liberation Serif','DejaVu Serif',serif" font-size="10.6" fill="#1a1aff" font-weight="bold" textLength="3.1" lengthAdjust="spacingAndGlyphs">)</text>
<text x="297.9" y="299" font-family="'Liberation Serif','DejaVu Serif',serif" font-size="9.6" fill="#1a1aff" font-weight="bold" textLength="11.7" lengthAdjust="spacingAndGlyphs">0.9</text>
<text x="311.1" y="299.1" font-family="'Liberation Serif','DejaVu Serif',serif" font-size="12" fill="#1a1aff" font-weight="bold" textLength="7.9" lengthAdjust="spacingAndGlyphs">±</text>
<text x="319.7" y="299" font-family="'Liberation Serif','DejaVu Serif',serif" font-size="9.6" fill="#1a1aff" font-weight="bold" textLength="15.9" lengthAdjust="spacingAndGlyphs">14.7</text>
<text x="339.3" y="299.3" font-family="'Liberation Serif','DejaVu Serif',serif" font-size="10.6" fill="#1a1aff" font-weight="bold" textLength="3.1" lengthAdjust="spacingAndGlyphs">(</text>
<text x="342.7" y="299" font-family="'Liberation Serif','DejaVu Serif',serif" font-size="9.6" fill="#1a1aff" font-weight="bold" textLength="11.9" lengthAdjust="spacingAndGlyphs">0.1</text>
<text x="355.2" y="299" font-family="'Liberation Serif','DejaVu Serif',serif" font-size="9.6" fill="#1a1aff" font-style="italic" font-weight="bold" textLength="5.9" lengthAdjust="spacingAndGlyphs">σ</text>
<text x="361.2" y="299.3" font-family="'Liberation Serif','DejaVu Serif',serif" font-size="10.6" fill="#1a1aff" font-weight="bold" textLength="3.1" lengthAdjust="spacingAndGlyphs">)</text>
<text x="45" y="200.7" font-family="'DejaVu Sans','Liberation Sans',sans-serif" font-size="12.6" fill="#000" stroke="#000" stroke-width="0.12" textLength="17.4" lengthAdjust="spacingAndGlyphs">(c)</text>
<text x="64.4" y="199.9" font-family="'Liberation Serif','DejaVu Serif',serif" font-size="11.8" fill="#000" stroke="#000" stroke-width="0.12" font-style="italic" textLength="7.2" lengthAdjust="spacingAndGlyphs">R</text>
<text x="73.3" y="201.1" font-family="'Liberation Serif','DejaVu Serif',serif" font-size="15.5" fill="#000" stroke="#000" stroke-width="0.12" textLength="7.2" lengthAdjust="spacingAndGlyphs">≤</text>
<text x="81.6" y="199.9" font-family="'Liberation Serif','DejaVu Serif',serif" font-size="11.8" fill="#000" stroke="#000" stroke-width="0.12" font-style="italic" textLength="7.2" lengthAdjust="spacingAndGlyphs">R</text>
<text x="89" y="201.9" font-family="'Liberation Serif','DejaVu Serif',serif" font-size="8.8" fill="#000" stroke="#000" stroke-width="0.12" font-style="italic" textLength="3.4" lengthAdjust="spacingAndGlyphs">e</text>
<text x="214.15" y="338.3" font-family="'Liberation Serif','DejaVu Serif',serif" font-size="11.4" fill="#000" stroke="#000" stroke-width="0.12" textLength="3" lengthAdjust="spacingAndGlyphs">|</text>
<text x="216.8" y="338.8" font-family="'Liberation Serif','DejaVu Serif',serif" font-size="11.8" fill="#000" stroke="#000" stroke-width="0.12" font-style="italic" textLength="4.6" lengthAdjust="spacingAndGlyphs">θ</text>
<text x="222.1" y="338.3" font-family="'Liberation Serif','DejaVu Serif',serif" font-size="11.5" fill="#000" stroke="#000" stroke-width="0.12" textLength="2.6" lengthAdjust="spacingAndGlyphs">(</text>
<text x="225.4" y="338.8" font-family="'Liberation Serif','DejaVu Serif',serif" font-size="11.8" fill="#000" stroke="#000" stroke-width="0.12" font-style="italic" textLength="7.2" lengthAdjust="spacingAndGlyphs">R</text>
<text x="234.4" y="340" font-family="'Liberation Serif','DejaVu Serif',serif" font-size="15.5" fill="#000" stroke="#000" stroke-width="0.12" textLength="7.2" lengthAdjust="spacingAndGlyphs">≤</text>
<text x="242.5" y="338.8" font-family="'Liberation Serif','DejaVu Serif',serif" font-size="11.8" fill="#000" stroke="#000" stroke-width="0.12" font-style="italic" textLength="7.2" lengthAdjust="spacingAndGlyphs">R</text>
<text x="250.4" y="340.8" font-family="'Liberation Serif','DejaVu Serif',serif" font-size="8.8" fill="#000" stroke="#000" stroke-width="0.12" font-style="italic" textLength="3.4" lengthAdjust="spacingAndGlyphs">e</text>
<text x="255" y="338.3" font-family="'Liberation Serif','DejaVu Serif',serif" font-size="11.5" fill="#000" stroke="#000" stroke-width="0.12" textLength="2.8" lengthAdjust="spacingAndGlyphs">)</text>
<text x="258.95" y="339.8" font-family="'Liberation Serif','DejaVu Serif',serif" font-size="15.5" fill="#000" stroke="#000" stroke-width="0.12" textLength="7.2" lengthAdjust="spacingAndGlyphs">−</text>
<text x="266.2" y="338.8" font-family="'Liberation Serif','DejaVu Serif',serif" font-size="11.8" fill="#000" stroke="#000" stroke-width="0.12" font-style="italic" textLength="4.6" lengthAdjust="spacingAndGlyphs">θ</text>
<text x="271.4" y="338.3" font-family="'Liberation Serif','DejaVu Serif',serif" font-size="11.5" fill="#000" stroke="#000" stroke-width="0.12" textLength="2.6" lengthAdjust="spacingAndGlyphs">(</text>
<text x="275.4" y="338.8" font-family="'Liberation Serif','DejaVu Serif',serif" font-size="11.8" fill="#000" stroke="#000" stroke-width="0.12" font-style="italic" textLength="7.2" lengthAdjust="spacingAndGlyphs">R</text>
<text x="282.9" y="340.8" font-family="'Liberation Serif','DejaVu Serif',serif" font-size="8.8" fill="#000" stroke="#000" stroke-width="0.12" font-style="italic" textLength="3.2" lengthAdjust="spacingAndGlyphs">e</text>
<text x="289.8" y="339.8" font-family="'Liberation Serif','DejaVu Serif',serif" font-size="15.5" fill="#000" stroke="#000" stroke-width="0.12" textLength="6.8" lengthAdjust="spacingAndGlyphs">&lt;</text>
<text x="297.5" y="338.8" font-family="'Liberation Serif','DejaVu Serif',serif" font-size="11.8" fill="#000" stroke="#000" stroke-width="0.12" font-style="italic" textLength="7.2" lengthAdjust="spacingAndGlyphs">R</text>
<text x="306.5" y="340" font-family="'Liberation Serif','DejaVu Serif',serif" font-size="15.5" fill="#000" stroke="#000" stroke-width="0.12" textLength="7.2" lengthAdjust="spacingAndGlyphs">≤</text>
<text x="314.6" y="338.8" font-family="'Liberation Serif','DejaVu Serif',serif" font-size="11.8" fill="#000" stroke="#000" stroke-width="0.12" textLength="4.6" lengthAdjust="spacingAndGlyphs">2</text>
<text x="319.5" y="338.8" font-family="'Liberation Serif','DejaVu Serif',serif" font-size="11.8" fill="#000" stroke="#000" stroke-width="0.12" font-style="italic" textLength="7.2" lengthAdjust="spacingAndGlyphs">R</text>
<text x="327.1" y="340.8" font-family="'Liberation Serif','DejaVu Serif',serif" font-size="8.8" fill="#000" stroke="#000" stroke-width="0.12" font-style="italic" textLength="3.3" lengthAdjust="spacingAndGlyphs">e</text>
<text x="331.7" y="338.3" font-family="'Liberation Serif','DejaVu Serif',serif" font-size="11.5" fill="#000" stroke="#000" stroke-width="0.12" textLength="2.8" lengthAdjust="spacingAndGlyphs">)</text>
<text x="335.95" y="338.3" font-family="'Liberation Serif','DejaVu Serif',serif" font-size="11.4" fill="#000" stroke="#000" stroke-width="0.12" textLength="3" lengthAdjust="spacingAndGlyphs">|</text>
<text x="340.7" y="339.8" font-family="'Liberation Serif','DejaVu Serif',serif" font-size="15.5" fill="#000" stroke="#000" stroke-width="0.12" textLength="6.6" lengthAdjust="spacingAndGlyphs">&gt;</text>
<text x="347.9" y="338.8" font-family="'Liberation Serif','DejaVu Serif',serif" font-size="11.8" fill="#000" stroke="#000" stroke-width="0.12" textLength="13.4" lengthAdjust="spacingAndGlyphs">5.0</text>
<text x="361.6" y="338.7" font-family="'Liberation Serif','DejaVu Serif',serif" font-size="13" fill="#000" stroke="#000" stroke-width="0.12" textLength="4.9" lengthAdjust="spacingAndGlyphs">°</text>
<rect x="36.5" y="183.5" width="348" height="163" fill="none" stroke="#383838" stroke-width="1"/>
<path d="M61.36 346.5v-2.4M61.36 183.5v2.4M111.07 346.5v-2.4M111.07 183.5v2.4M160.79 346.5v-2.4M160.79 183.5v2.4M210.5 346.5v-2.4M210.5 183.5v2.4M260.21 346.5v-2.4M260.21 183.5v2.4M309.93 346.5v-2.4M309.93 183.5v2.4M359.64 346.5v-2.4M359.64 183.5v2.4M36.5 339.3h2.4M384.5 339.3h-2.4M36.5 304.3h2.4M384.5 304.3h-2.4M36.5 269.3h2.4M384.5 269.3h-2.4M36.5 234.3h2.4M384.5 234.3h-2.4M36.5 199.3h2.4M384.5 199.3h-2.4" stroke="#000" stroke-width="0.6" fill="none"/>
<text x="61.76" y="356.2" font-family="'DejaVu Sans','Liberation Sans',sans-serif" font-size="8.3" fill="#000" stroke="#000" stroke-width="0.15" text-anchor="middle">2</text>
<text x="111.47" y="356.2" font-family="'DejaVu Sans','Liberation Sans',sans-serif" font-size="8.3" fill="#000" stroke="#000" stroke-width="0.15" text-anchor="middle">4</text>
<text x="161.19" y="356.2" font-family="'DejaVu Sans','Liberation Sans',sans-serif" font-size="8.3" fill="#000" stroke="#000" stroke-width="0.15" text-anchor="middle">6</text>
<text x="210.9" y="356.2" font-family="'DejaVu Sans','Liberation Sans',sans-serif" font-size="8.3" fill="#000" stroke="#000" stroke-width="0.15" text-anchor="middle">8</text>
<text x="260.61" y="356.2" font-family="'DejaVu Sans','Liberation Sans',sans-serif" font-size="8.3" fill="#000" stroke="#000" stroke-width="0.15" text-anchor="middle">10</text>
<text x="310.33" y="356.2" font-family="'DejaVu Sans','Liberation Sans',sans-serif" font-size="8.3" fill="#000" stroke="#000" stroke-width="0.15" text-anchor="middle">12</text>
<text x="360.04" y="356.2" font-family="'DejaVu Sans','Liberation Sans',sans-serif" font-size="8.3" fill="#000" stroke="#000" stroke-width="0.15" text-anchor="middle">14</text>
<text x="35.2" y="341.9" font-family="'DejaVu Sans','Liberation Sans',sans-serif" font-size="8.3" fill="#000" stroke="#000" stroke-width="0.15" text-anchor="end">−20</text>
<text x="35.2" y="306.9" font-family="'DejaVu Sans','Liberation Sans',sans-serif" font-size="8.3" fill="#000" stroke="#000" stroke-width="0.15" text-anchor="end">0</text>
<text x="35.2" y="271.9" font-family="'DejaVu Sans','Liberation Sans',sans-serif" font-size="8.3" fill="#000" stroke="#000" stroke-width="0.15" text-anchor="end">20</text>
<text x="35.2" y="236.9" font-family="'DejaVu Sans','Liberation Sans',sans-serif" font-size="8.3" fill="#000" stroke="#000" stroke-width="0.15" text-anchor="end">40</text>
<text x="35.2" y="201.9" font-family="'DejaVu Sans','Liberation Sans',sans-serif" font-size="8.3" fill="#000" stroke="#000" stroke-width="0.15" text-anchor="end">60</text>
<rect x="203.5" y="188.5" width="176" height="16" fill="#fff" stroke="#383838" stroke-width="1"/>
<rect x="207.1" y="192.3" width="20.4" height="6.5" fill="#cccccc"/>
<text x="234.9" y="198.8" font-family="'DejaVu Sans','Liberation Sans',sans-serif" font-size="10.4" fill="#000" stroke="#000" stroke-width="0.15" textLength="141" lengthAdjust="spacingAndGlyphs">random spin-axis uncertainty</text>
<text x="184.7" y="369.6" font-family="'Liberation Serif','DejaVu Serif',serif" font-size="13.6" fill="#000" stroke="#000" stroke-width="0.12" font-style="italic" textLength="10.2" lengthAdjust="spacingAndGlyphs">D</text>
<text x="199.5" y="369.6" font-family="'DejaVu Sans','Liberation Sans',sans-serif" font-size="13" fill="#000" stroke="#000" stroke-width="0.15" textLength="36.8" lengthAdjust="spacingAndGlyphs">[Mpc]</text>
<g transform="translate(11.7 321.2) rotate(-90)">
<text x="2.85" y="1.1" font-family="'Liberation Serif','DejaVu Serif',serif" font-size="18" fill="#000" stroke="#000" stroke-width="0.12" textLength="9.6" lengthAdjust="spacingAndGlyphs">&lt;</text>
<text x="13.55" y="0" font-family="'Liberation Serif','DejaVu Serif',serif" font-size="15.8" fill="#000" stroke="#000" stroke-width="0.12" textLength="11" lengthAdjust="spacingAndGlyphs">Δ</text>
<text x="24.8" y="0" font-family="'Liberation Serif','DejaVu Serif',serif" font-size="15.6" fill="#000" stroke="#000" stroke-width="0.12" font-style="italic" textLength="7.4" lengthAdjust="spacingAndGlyphs">v</text>
<text x="33" y="1.1" font-family="'Liberation Serif','DejaVu Serif',serif" font-size="18" fill="#000" stroke="#000" stroke-width="0.12" textLength="10.3" lengthAdjust="spacingAndGlyphs">&gt;</text>
<text x="45" y="3.1" font-family="'Liberation Serif','DejaVu Serif',serif" font-size="10.8" fill="#000" stroke="#000" stroke-width="0.12" font-style="italic" textLength="6.8" lengthAdjust="spacingAndGlyphs">R</text>
<text x="52.2" y="3.8" font-family="'Liberation Serif','DejaVu Serif',serif" font-size="12.5" fill="#000" stroke="#000" stroke-width="0.12" textLength="5.8" lengthAdjust="spacingAndGlyphs">−</text>
<text x="58.2" y="3.1" font-family="'Liberation Serif','DejaVu Serif',serif" font-size="10.8" fill="#000" stroke="#000" stroke-width="0.12" font-style="italic" textLength="5.6" lengthAdjust="spacingAndGlyphs">L</text>
<text x="68.8" y="0.2" font-family="'DejaVu Sans','Liberation Sans',sans-serif" font-size="14.6" fill="#000" stroke="#000" stroke-width="0.1" textLength="42.3" lengthAdjust="spacingAndGlyphs">[km/s]</text>
</g>
</g>
<g id="panel-d">
<clipPath id="clip-d"><rect x="411.5" y="183.5" width="348" height="163"/></clipPath>
<g clip-path="url(#clip-d)">
<rect x="411.5" y="264.93" width="124.29" height="43.7" fill="#cccccc"/>
<rect x="535.79" y="241.65" width="124.29" height="57.7" fill="#cccccc"/>
<rect x="660.07" y="269.12" width="99.43" height="54.9" fill="#cccccc"/>
<line x1="411.5" x2="759.5" y1="304.3" y2="304.3" stroke="#45cfcf" stroke-width="1"/>
<line x1="535.94" x2="535.94" y1="183.5" y2="346.5" stroke="#dc66d8" stroke-width="1.7"/>
<line x1="660.22" x2="660.22" y1="183.5" y2="346.5" stroke="#dc66d8" stroke-width="1.7"/>
<line x1="410.6" x2="536.69" y1="286.8" y2="286.8" stroke="#000" stroke-width="1.6"/>
<line x1="534.89" x2="660.97" y1="270.53" y2="270.53" stroke="#000" stroke-width="1.6"/>
<line x1="659.17" x2="760.4" y1="296.6" y2="296.6" stroke="#000" stroke-width="1.6"/>
</g>
<text x="436.5" y="283" font-family="'Liberation Serif','DejaVu Serif',serif" font-size="9.6" fill="#1a1aff" font-weight="bold" textLength="16.2" lengthAdjust="spacingAndGlyphs">10.0</text>
<text x="454.2" y="283.1" font-family="'Liberation Serif','DejaVu Serif',serif" font-size="12" fill="#1a1aff" font-weight="bold" textLength="7.9" lengthAdjust="spacingAndGlyphs">±</text>
<text x="462.8" y="283" font-family="'Liberation Serif','DejaVu Serif',serif" font-size="9.6" fill="#1a1aff" font-weight="bold" textLength="15.9" lengthAdjust="spacingAndGlyphs">12.3</text>
<text x="482.4" y="283.3" font-family="'Liberation Serif','DejaVu Serif',serif" font-size="10.6" fill="#1a1aff" font-weight="bold" textLength="3.1" lengthAdjust="spacingAndGlyphs">(</text>
<text x="485.8" y="283" font-family="'Liberation Serif','DejaVu Serif',serif" font-size="9.6" fill="#1a1aff" font-weight="bold" textLength="11.9" lengthAdjust="spacingAndGlyphs">0.8</text>
<text x="498.3" y="283" font-family="'Liberation Serif','DejaVu Serif',serif" font-size="9.6" fill="#1a1aff" font-style="italic" font-weight="bold" textLength="5.9" lengthAdjust="spacingAndGlyphs">σ</text>
<text x="504.3" y="283.3" font-family="'Liberation Serif','DejaVu Serif',serif" font-size="10.6" fill="#1a1aff" font-weight="bold" textLength="3.1" lengthAdjust="spacingAndGlyphs">)</text>
<text x="560.8" y="267" font-family="'Liberation Serif','DejaVu Serif',serif" font-size="9.6" fill="#1a1aff" font-weight="bold" textLength="16.2" lengthAdjust="spacingAndGlyphs">19.3</text>
<text x="578.5" y="267.1" font-family="'Liberation Serif','DejaVu Serif',serif" font-size="12" fill="#1a1aff" font-weight="bold" textLength="7.9" lengthAdjust="spacingAndGlyphs">±</text>
<text x="587.1" y="267" font-family="'Liberation Serif','DejaVu Serif',serif" font-size="9.6" fill="#1a1aff" font-weight="bold" textLength="15.9" lengthAdjust="spacingAndGlyphs">16.3</text>
<text x="606.7" y="267.3" font-family="'Liberation Serif','DejaVu Serif',serif" font-size="10.6" fill="#1a1aff" font-weight="bold" textLength="3.1" lengthAdjust="spacingAndGlyphs">(</text>
<text x="610.1" y="267" font-family="'Liberation Serif','DejaVu Serif',serif" font-size="9.6" fill="#1a1aff" font-weight="bold" textLength="11.9" lengthAdjust="spacingAndGlyphs">1.2</text>
<text x="622.6" y="267" font-family="'Liberation Serif','DejaVu Serif',serif" font-size="9.6" fill="#1a1aff" font-style="italic" font-weight="bold" textLength="5.9" lengthAdjust="spacingAndGlyphs">σ</text>
<text x="628.6" y="267.3" font-family="'Liberation Serif','DejaVu Serif',serif" font-size="10.6" fill="#1a1aff" font-weight="bold" textLength="3.1" lengthAdjust="spacingAndGlyphs">)</text>
<text x="672.9" y="293" font-family="'Liberation Serif','DejaVu Serif',serif" font-size="9.6" fill="#1a1aff" font-weight="bold" textLength="11.7" lengthAdjust="spacingAndGlyphs">4.4</text>
<text x="686.1" y="293.1" font-family="'Liberation Serif','DejaVu Serif',serif" font-size="12" fill="#1a1aff" font-weight="bold" textLength="7.9" lengthAdjust="spacingAndGlyphs">±</text>
<text x="694.7" y="293" font-family="'Liberation Serif','DejaVu Serif',serif" font-size="9.6" fill="#1a1aff" font-weight="bold" textLength="15.9" lengthAdjust="spacingAndGlyphs">15.5</text>
<text x="714.3" y="293.3" font-family="'Liberation Serif','DejaVu Serif',serif" font-size="10.6" fill="#1a1aff" font-weight="bold" textLength="3.1" lengthAdjust="spacingAndGlyphs">(</text>
<text x="717.7" y="293" font-family="'Liberation Serif','DejaVu Serif',serif" font-size="9.6" fill="#1a1aff" font-weight="bold" textLength="11.9" lengthAdjust="spacingAndGlyphs">0.3</text>
<text x="730.2" y="293" font-family="'Liberation Serif','DejaVu Serif',serif" font-size="9.6" fill="#1a1aff" font-style="italic" font-weight="bold" textLength="5.9" lengthAdjust="spacingAndGlyphs">σ</text>
<text x="736.2" y="293.3" font-family="'Liberation Serif','DejaVu Serif',serif" font-size="10.6" fill="#1a1aff" font-weight="bold" textLength="3.1" lengthAdjust="spacingAndGlyphs">)</text>
<text x="420" y="200.7" font-family="'DejaVu Sans','Liberation Sans',sans-serif" font-size="12.6" fill="#000" stroke="#000" stroke-width="0.12" textLength="17.4" lengthAdjust="spacingAndGlyphs">(d)</text>
<text x="440.2" y="199.9" font-family="'Liberation Serif','DejaVu Serif',serif" font-size="11.8" fill="#000" stroke="#000" stroke-width="0.12" font-style="italic" textLength="7.2" lengthAdjust="spacingAndGlyphs">R</text>
<text x="447.7" y="201.9" font-family="'Liberation Serif','DejaVu Serif',serif" font-size="8.8" fill="#000" stroke="#000" stroke-width="0.12" font-style="italic" textLength="3.4" lengthAdjust="spacingAndGlyphs">e</text>
<text x="454.2" y="200.9" font-family="'Liberation Serif','DejaVu Serif',serif" font-size="15.5" fill="#000" stroke="#000" stroke-width="0.12" textLength="6.8" lengthAdjust="spacingAndGlyphs">&lt;</text>
<text x="461.7" y="199.9" font-family="'Liberation Serif','DejaVu Serif',serif" font-size="11.8" fill="#000" stroke="#000" stroke-width="0.12" font-style="italic" textLength="7.2" lengthAdjust="spacingAndGlyphs">R</text>
<text x="471.1" y="201.1" font-family="'Liberation Serif','DejaVu Serif',serif" font-size="15.5" fill="#000" stroke="#000" stroke-width="0.12" textLength="7.2" lengthAdjust="spacingAndGlyphs">≤</text>
<text x="478.8" y="199.9" font-family="'Liberation Serif','DejaVu Serif',serif" font-size="11.8" fill="#000" stroke="#000" stroke-width="0.12" textLength="4.8" lengthAdjust="spacingAndGlyphs">2</text>
<text x="484" y="199.9" font-family="'Liberation Serif','DejaVu Serif',serif" font-size="11.8" fill="#000" stroke="#000" stroke-width="0.12" font-style="italic" textLength="7.2" lengthAdjust="spacingAndGlyphs">R</text>
<text x="491.6" y="201.9" font-family="'Liberation Serif','DejaVu Serif',serif" font-size="8.8" fill="#000" stroke="#000" stroke-width="0.12" font-style="italic" textLength="3.4" lengthAdjust="spacingAndGlyphs">e</text>
<text x="589.15" y="338.3" font-family="'Liberation Serif','DejaVu Serif',serif" font-size="11.4" fill="#000" stroke="#000" stroke-width="0.12" textLength="3" lengthAdjust="spacingAndGlyphs">|</text>
<text x="591.8" y="338.8" font-family="'Liberation Serif','DejaVu Serif',serif" font-size="11.8" fill="#000" stroke="#000" stroke-width="0.12" font-style="italic" textLength="4.6" lengthAdjust="spacingAndGlyphs">θ</text>
<text x="597.1" y="338.3" font-family="'Liberation Serif','DejaVu Serif',serif" font-size="11.5" fill="#000" stroke="#000" stroke-width="0.12" textLength="2.6" lengthAdjust="spacingAndGlyphs">(</text>
<text x="600.4" y="338.8" font-family="'Liberation Serif','DejaVu Serif',serif" font-size="11.8" fill="#000" stroke="#000" stroke-width="0.12" font-style="italic" textLength="7.2" lengthAdjust="spacingAndGlyphs">R</text>
<text x="609.4" y="340" font-family="'Liberation Serif','DejaVu Serif',serif" font-size="15.5" fill="#000" stroke="#000" stroke-width="0.12" textLength="7.2" lengthAdjust="spacingAndGlyphs">≤</text>
<text x="617.5" y="338.8" font-family="'Liberation Serif','DejaVu Serif',serif" font-size="11.8" fill="#000" stroke="#000" stroke-width="0.12" font-style="italic" textLength="7.2" lengthAdjust="spacingAndGlyphs">R</text>
<text x="625.4" y="340.8" font-family="'Liberation Serif','DejaVu Serif',serif" font-size="8.8" fill="#000" stroke="#000" stroke-width="0.12" font-style="italic" textLength="3.4" lengthAdjust="spacingAndGlyphs">e</text>
<text x="630" y="338.3" font-family="'Liberation Serif','DejaVu Serif',serif" font-size="11.5" fill="#000" stroke="#000" stroke-width="0.12" textLength="2.8" lengthAdjust="spacingAndGlyphs">)</text>
<text x="633.95" y="339.8" font-family="'Liberation Serif','DejaVu Serif',serif" font-size="15.5" fill="#000" stroke="#000" stroke-width="0.12" textLength="7.2" lengthAdjust="spacingAndGlyphs">−</text>
<text x="641.2" y="338.8" font-family="'Liberation Serif','DejaVu Serif',serif" font-size="11.8" fill="#000" stroke="#000" stroke-width="0.12" font-style="italic" textLength="4.6" lengthAdjust="spacingAndGlyphs">θ</text>
<text x="646.4" y="338.3" font-family="'Liberation Serif','DejaVu Serif',serif" font-size="11.5" fill="#000" stroke="#000" stroke-width="0.12" textLength="2.6" lengthAdjust="spacingAndGlyphs">(</text>
<text x="650.4" y="338.8" font-family="'Liberation Serif','DejaVu Serif',serif" font-size="11.8" fill="#000" stroke="#000" stroke-width="0.12" font-style="italic" textLength="7.2" lengthAdjust="spacingAndGlyphs">R</text>
<text x="657.9" y="340.8" font-family="'Liberation Serif','DejaVu Serif',serif" font-size="8.8" fill="#000" stroke="#000" stroke-width="0.12" font-style="italic" textLength="3.2" lengthAdjust="spacingAndGlyphs">e</text>
<text x="664.8" y="339.8" font-family="'Liberation Serif','DejaVu Serif',serif" font-size="15.5" fill="#000" stroke="#000" stroke-width="0.12" textLength="6.8" lengthAdjust="spacingAndGlyphs">&lt;</text>
<text x="672.5" y="338.8" font-family="'Liberation Serif','DejaVu Serif',serif" font-size="11.8" fill="#000" stroke="#000" stroke-width="0.12" font-style="italic" textLength="7.2" lengthAdjust="spacingAndGlyphs">R</text>
<text x="681.5" y="340" font-family="'Liberation Serif','DejaVu Serif',serif" font-size="15.5" fill="#000" stroke="#000" stroke-width="0.12" textLength="7.2" lengthAdjust="spacingAndGlyphs">≤</text>
<text x="689.6" y="338.8" font-family="'Liberation Serif','DejaVu Serif',serif" font-size="11.8" fill="#000" stroke="#000" stroke-width="0.12" textLength="4.6" lengthAdjust="spacingAndGlyphs">2</text>
<text x="694.5" y="338.8" font-family="'Liberation Serif','DejaVu Serif',serif" font-size="11.8" fill="#000" stroke="#000" stroke-width="0.12" font-style="italic" textLength="7.2" lengthAdjust="spacingAndGlyphs">R</text>
<text x="702.1" y="340.8" font-family="'Liberation Serif','DejaVu Serif',serif" font-size="8.8" fill="#000" stroke="#000" stroke-width="0.12" font-style="italic" textLength="3.3" lengthAdjust="spacingAndGlyphs">e</text>
<text x="706.7" y="338.3" font-family="'Liberation Serif','DejaVu Serif',serif" font-size="11.5" fill="#000" stroke="#000" stroke-width="0.12" textLength="2.8" lengthAdjust="spacingAndGlyphs">)</text>
<text x="710.95" y="338.3" font-family="'Liberation Serif','DejaVu Serif',serif" font-size="11.4" fill="#000" stroke="#000" stroke-width="0.12" textLength="3" lengthAdjust="spacingAndGlyphs">|</text>
<text x="715.7" y="339.8" font-family="'Liberation Serif','DejaVu Serif',serif" font-size="15.5" fill="#000" stroke="#000" stroke-width="0.12" textLength="6.6" lengthAdjust="spacingAndGlyphs">&gt;</text>
<text x="722.9" y="338.8" font-family="'Liberation Serif','DejaVu Serif',serif" font-size="11.8" fill="#000" stroke="#000" stroke-width="0.12" textLength="13.4" lengthAdjust="spacingAndGlyphs">5.0</text>
<text x="736.6" y="338.7" font-family="'Liberation Serif','DejaVu Serif',serif" font-size="13" fill="#000" stroke="#000" stroke-width="0.12" textLength="4.9" lengthAdjust="spacingAndGlyphs">°</text>
<rect x="411.5" y="183.5" width="348" height="163" fill="none" stroke="#383838" stroke-width="1"/>
<path d="M436.36 346.5v-2.4M436.36 183.5v2.4M486.07 346.5v-2.4M486.07 183.5v2.4M535.79 346.5v-2.4M535.79 183.5v2.4M585.5 346.5v-2.4M585.5 183.5v2.4M635.21 346.5v-2.4M635.21 183.5v2.4M684.93 346.5v-2.4M684.93 183.5v2.4M734.64 346.5v-2.4M734.64 183.5v2.4M411.5 339.3h2.4M759.5 339.3h-2.4M411.5 304.3h2.4M759.5 304.3h-2.4M411.5 269.3h2.4M759.5 269.3h-2.4M411.5 234.3h2.4M759.5 234.3h-2.4M411.5 199.3h2.4M759.5 199.3h-2.4" stroke="#000" stroke-width="0.6" fill="none"/>
<text x="436.76" y="356.2" font-family="'DejaVu Sans','Liberation Sans',sans-serif" font-size="8.3" fill="#000" stroke="#000" stroke-width="0.15" text-anchor="middle">2</text>
<text x="486.47" y="356.2" font-family="'DejaVu Sans','Liberation Sans',sans-serif" font-size="8.3" fill="#000" stroke="#000" stroke-width="0.15" text-anchor="middle">4</text>
<text x="536.19" y="356.2" font-family="'DejaVu Sans','Liberation Sans',sans-serif" font-size="8.3" fill="#000" stroke="#000" stroke-width="0.15" text-anchor="middle">6</text>
<text x="585.9" y="356.2" font-family="'DejaVu Sans','Liberation Sans',sans-serif" font-size="8.3" fill="#000" stroke="#000" stroke-width="0.15" text-anchor="middle">8</text>
<text x="635.61" y="356.2" font-family="'DejaVu Sans','Liberation Sans',sans-serif" font-size="8.3" fill="#000" stroke="#000" stroke-width="0.15" text-anchor="middle">10</text>
<text x="685.33" y="356.2" font-family="'DejaVu Sans','Liberation Sans',sans-serif" font-size="8.3" fill="#000" stroke="#000" stroke-width="0.15" text-anchor="middle">12</text>
<text x="735.04" y="356.2" font-family="'DejaVu Sans','Liberation Sans',sans-serif" font-size="8.3" fill="#000" stroke="#000" stroke-width="0.15" text-anchor="middle">14</text>
<text x="410.2" y="341.9" font-family="'DejaVu Sans','Liberation Sans',sans-serif" font-size="8.3" fill="#000" stroke="#000" stroke-width="0.15" text-anchor="end">−20</text>
<text x="410.2" y="306.9" font-family="'DejaVu Sans','Liberation Sans',sans-serif" font-size="8.3" fill="#000" stroke="#000" stroke-width="0.15" text-anchor="end">0</text>
<text x="410.2" y="271.9" font-family="'DejaVu Sans','Liberation Sans',sans-serif" font-size="8.3" fill="#000" stroke="#000" stroke-width="0.15" text-anchor="end">20</text>
<text x="410.2" y="236.9" font-family="'DejaVu Sans','Liberation Sans',sans-serif" font-size="8.3" fill="#000" stroke="#000" stroke-width="0.15" text-anchor="end">40</text>
<text x="410.2" y="201.9" font-family="'DejaVu Sans','Liberation Sans',sans-serif" font-size="8.3" fill="#000" stroke="#000" stroke-width="0.15" text-anchor="end">60</text>
<text x="559.7" y="369.6" font-family="'Liberation Serif','DejaVu Serif',serif" font-size="13.6" fill="#000" stroke="#000" stroke-width="0.12" font-style="italic" textLength="10.2" lengthAdjust="spacingAndGlyphs">D</text>
<text x="574.5" y="369.6" font-family="'DejaVu Sans','Liberation Sans',sans-serif" font-size="13" fill="#000" stroke="#000" stroke-width="0.15" textLength="36.8" lengthAdjust="spacingAndGlyphs">[Mpc]</text>
</g>
</svg>
</body></html>
